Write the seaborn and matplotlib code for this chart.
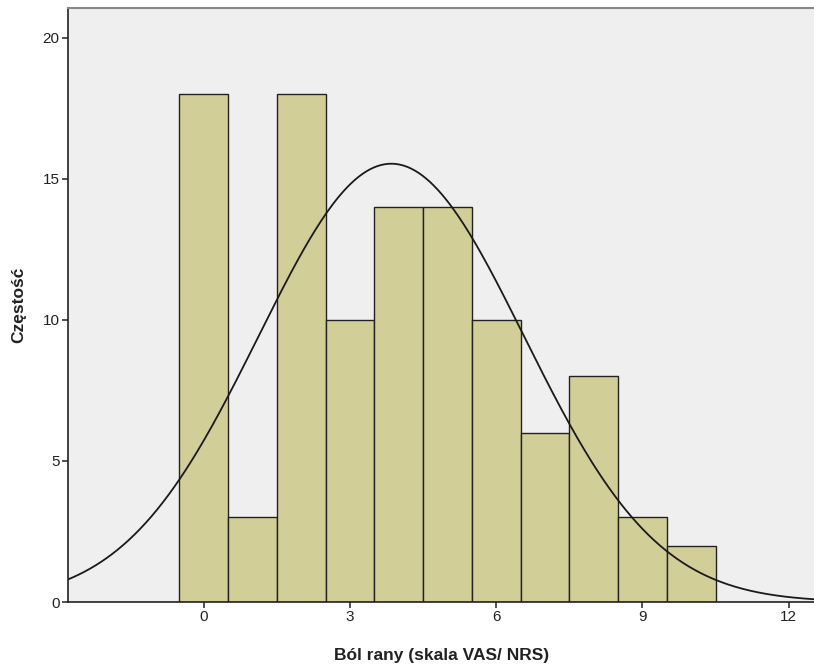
import numpy as np
import pandas as pd
import matplotlib
matplotlib.use("Agg")
import matplotlib.pyplot as plt
import seaborn as sns

# Data
pain_scores = [0, 1, 2, 3, 4, 5, 6, 7, 8, 9, 10]
frequencies = [18, 3, 18, 10, 14, 14, 10, 6, 8, 3, 2]
x_ticks = [0, 3, 6, 9, 12]
y_ticks = [0, 5, 10, 15, 20]

sns.set_theme(style="white")
plt.rcParams['font.family'] = ['Liberation Sans', 'DejaVu Sans']

df = pd.DataFrame({"score": pain_scores, "freq": frequencies})

# normal curve fitted to the data
vals = np.repeat(pain_scores, frequencies)
n = len(vals)
mean = vals.mean()
sd = vals.std(ddof=1)
xs = np.linspace(-2.8, 12.6, 400)
ys = n * 1.0 / (sd * np.sqrt(2 * np.pi)) * np.exp(-0.5 * ((xs - mean) / sd) ** 2)
curve = pd.DataFrame({"x": xs, "y": ys})

fig = plt.figure(figsize=(8.14, 6.68), dpi=100)
ax = fig.add_axes([68 / 814, 66 / 668, 1 - 68 / 814 + 0.002, (602 - 8) / 668])
ax.set_facecolor("#efefef")

sns.histplot(data=df, x="score", weights="freq", discrete=True, ax=ax,
             color="#d2ce98", edgecolor="#222222", linewidth=1.0, alpha=1)
sns.lineplot(data=curve, x="x", y="y", ax=ax, color="#1a1a1a", linewidth=1.3)

ax.set_xlim(-2.78, 12.55)
ax.set_ylim(0, 21.06)
ax.set_xticks(x_ticks)
ax.set_yticks(y_ticks)
ax.tick_params(axis="both", which="both", direction="out", length=4, width=1.2,
               color="#333333", labelsize=11, labelcolor="#222222", pad=2,
               bottom=True, left=True)

for s in ["left", "bottom"]:
    ax.spines[s].set_color("#222222")
    ax.spines[s].set_linewidth(1.2)
ax.spines["top"].set_color("#888888")
ax.spines["top"].set_linewidth(1.5)
ax.spines["right"].set_visible(False)

ax.set_xlabel("Ból rany (skala VAS/ NRS)", fontsize=12.5, fontweight="bold", labelpad=17, color="#222222")
ax.set_ylabel("Częstość", fontsize=12.5, fontweight="bold", labelpad=12, color="#222222")

fig.savefig("out.png", dpi=100)
